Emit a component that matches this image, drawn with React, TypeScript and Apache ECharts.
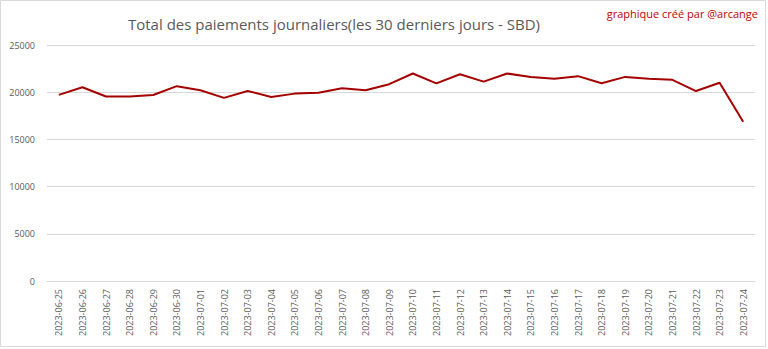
import React, { useEffect, useRef } from "react";
import * as echarts from "echarts";

const categories = [
  "2023-06-25", "2023-06-26", "2023-06-27", "2023-06-28", "2023-06-29", "2023-06-30",
  "2023-07-01", "2023-07-02", "2023-07-03", "2023-07-04", "2023-07-05", "2023-07-06",
  "2023-07-07", "2023-07-08", "2023-07-09", "2023-07-10", "2023-07-11", "2023-07-12",
  "2023-07-13", "2023-07-14", "2023-07-15", "2023-07-16", "2023-07-17", "2023-07-18",
  "2023-07-19", "2023-07-20", "2023-07-21", "2023-07-22", "2023-07-23", "2023-07-24",
];

const payments = [
  19720, 20530, 19540, 19540, 19700, 20640, 20210, 19400, 20130, 19500,
  19850, 19950, 20420, 20210, 20850, 21980, 20940, 21900, 21120, 21980,
  21620, 21420, 21700, 20940, 21620, 21420, 21310, 20120, 21000, 16860,
];

const yTicks = { min: 0, max: 25000, interval: 5000 };

const titleText = "Total des paiements journaliers(les 30 derniers jours - SBD)";
const creditText = "graphique créé par @arcange";

export default function App() {
  const ref = useRef<HTMLDivElement>(null);
  useEffect(() => {
    if (!ref.current) return;
    const chart = echarts.init(ref.current, null, { renderer: "svg" });
    const font = "'Open Sans', 'Noto Sans', sans-serif";
    chart.setOption({
      animation: false,
      backgroundColor: "#ffffff",
      textStyle: { fontFamily: font },
      title: {
        text: titleText,
        left: 329,
        top: 11,
        textAlign: "center",
        textStyle: { fontSize: 15, fontWeight: "normal", color: "#595959", fontFamily: font },
      },
      graphic: [
        {
          type: "rect",
          shape: { x: 0.5, y: 0.5, width: 765, height: 346 },
          style: { fill: "none", stroke: "#d9d9d9", lineWidth: 1 },
          silent: true,
        },
        {
          type: "text",
          right: 10,
          top: 8,
          style: { text: creditText, fill: "#c00000", fontSize: 11, fontFamily: font },
        },
      ],
      grid: { left: 47, right: 13, top: 45, bottom: 68, containLabel: false },
      xAxis: {
        type: "category",
        data: categories,
        boundaryGap: true,
        axisLine: { show: true, lineStyle: { color: "#d9d9d9" } },
        axisTick: { show: false },
        axisLabel: { rotate: 90, fontSize: 9, color: "#595959", margin: 8, interval: 0 },
      },
      yAxis: {
        type: "value",
        min: yTicks.min,
        max: yTicks.max,
        interval: yTicks.interval,
        axisLine: { show: false },
        axisTick: { show: false },
        axisLabel: { fontSize: 9, color: "#595959", margin: 12, formatter: (v: number) => String(v) },
        splitLine: { lineStyle: { color: "#d9d9d9" } },
      },
      series: [
        {
          type: "line",
          data: payments,
          symbol: "none",
          lineStyle: { color: "#a50000", width: 2 },
          itemStyle: { color: "#a50000" },
        },
      ],
    });
    return () => chart.dispose();
  }, []);
  return (
    <div
      ref={ref}
      style={{ position: "fixed", left: 0, top: 0, width: 768, height: 349 }}
    />
  );
}
